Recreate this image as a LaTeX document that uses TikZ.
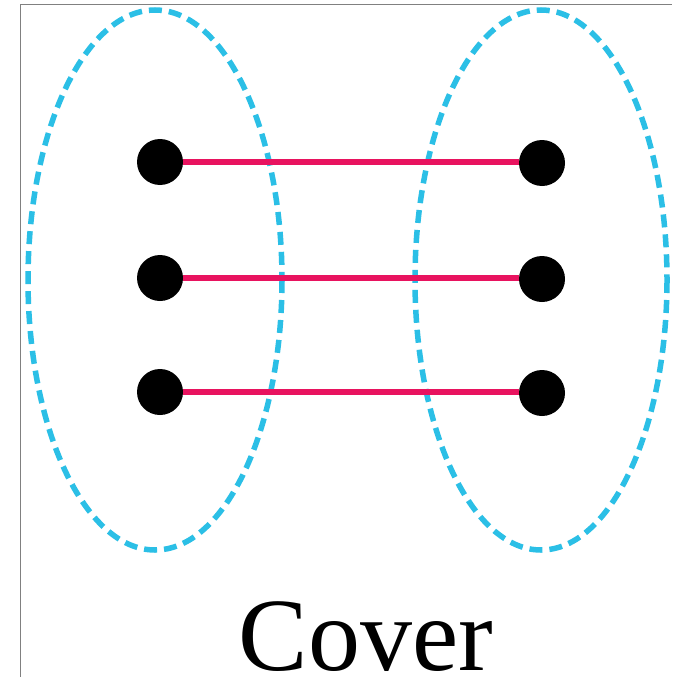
\documentclass[tikz,border=0pt]{standalone}
\usepackage{fontspec}
\setmainfont{Liberation Serif}
\definecolor{pinkline}{HTML}{E8135F}
\definecolor{cyandash}{HTML}{2BBFE6}
\begin{document}
\begin{tikzpicture}[x=1pt,y=-1pt,
  dot/.style={circle,fill=black,inner sep=0pt,minimum size=46pt},
  link/.style={pinkline,line width=6.5pt},
  group/.style={cyandash,line width=5.5pt,dash pattern=on 13pt off 7pt},
  frame/.style={gray,line width=1pt}]
\useasboundingbox (0,0) rectangle (677,677);
\fill[white] (0,0) rectangle (677,677);
\coordinate (fa) at (20,677);
\coordinate (fb) at (20,5);
\coordinate (fc) at (672,5);
\draw[frame] (fa) -- (fb) -- (fc);
\node[draw=none] (L) at (155,280) {};
\node[draw=none] (R) at (541,280) {};
\draw[group] (L) ellipse [x radius=127, y radius=270];
\draw[group] (R) ellipse [x radius=126, y radius=270];
\node[dot] (l1) at (160,162) {};
\node[dot] (l2) at (160,278) {};
\node[dot] (l3) at (160,392) {};
\node[dot] (r1) at (542,163) {};
\node[dot] (r2) at (542,279) {};
\node[dot] (r3) at (542,393) {};
\draw[link] (l1.east) -- (l1.east -| r1.west);
\draw[link] (l2.east) -- (l2.east -| r2.west);
\draw[link] (l3.east) -- (l3.east -| r3.west);
\node[anchor=base,inner sep=0pt,font=\fontsize{104}{104}\selectfont] (t) at (366,670) {Cover};
\end{tikzpicture}
\end{document}
